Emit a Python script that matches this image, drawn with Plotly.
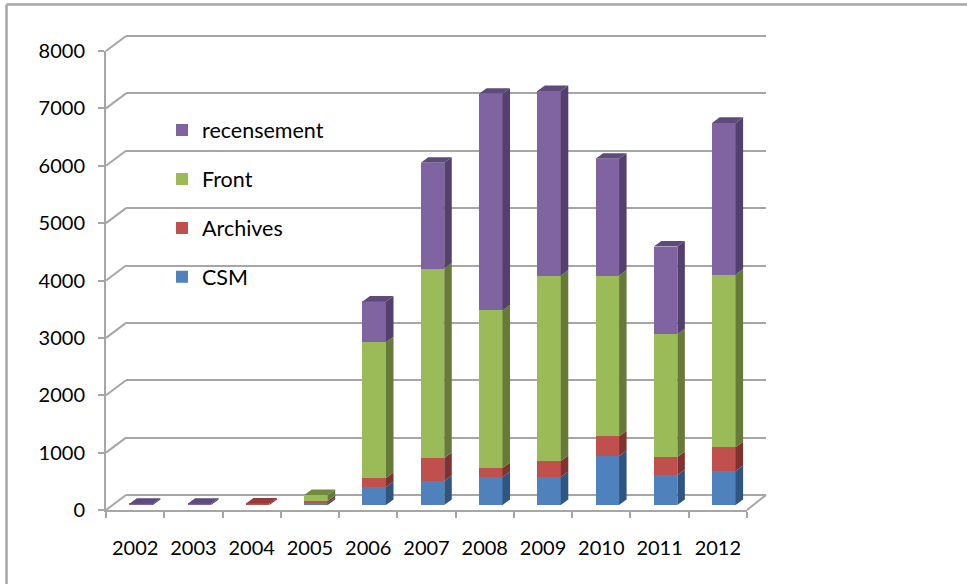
import plotly.graph_objects as go

W, H = 967, 584

# Data
years = [2002, 2003, 2004, 2005, 2006, 2007, 2008, 2009, 2010, 2011, 2012]
csm = [0, 0, 0, 35, 313, 417, 487, 487, 852, 522, 591]
archives = [0, 0, 25, 35, 157, 400, 157, 278, 348, 313, 417]
front = [0, 0, 0, 105, 2365, 3304, 2748, 3235, 2800, 2139, 3009]
recensement = [20, 20, 0, 0, 713, 1843, 3774, 3217, 2035, 1530, 2643]
y_ticks = [0, 1000, 2000, 3000, 4000, 5000, 6000, 7000, 8000]

# Styles
series = [
    ("CSM", csm, "#4F81BD", "#2F5580", "#3A6491", 4),
    ("Archives", archives, "#C0504D", "#7F3230", "#933B39", 3),
    ("Front", front, "#9BBB59", "#667A3A", "#708A3E", 2),
    ("recensement", recensement, "#8064A2", "#54406D", "#5E4A7C", 1),
]
GRID = "#A6A6A6"
FONT = "Lato"
FS = 20
LEGEND_FS = 21.5
BAR_W = 0.403
DX = 0.129   # bar depth, in years
DY = 96      # bar depth rise, in value units
PAD = 4      # extra pixels around the back wall so its end gridlines are kept
UNITS_PER_PX = 8000 / 459


def px(x):
    return x / W


def py(y):
    return 1 - y / H


def scale_y(top0, top8, v):
    return top0 + (top8 - top0) * v / 8000


fig = go.Figure()

# Back wall: gridlines only
fig.add_trace(go.Scatter(x=[None], y=[None], xaxis="x", yaxis="y", showlegend=False, hoverinfo="skip"))
# Front axes: tick labels
fig.add_trace(go.Scatter(x=[None], y=[None], xaxis="x2", yaxis="y2", showlegend=False, hoverinfo="skip"))

# Bars and their 3D faces
cum = [0] * len(years)
tops = {}
for name, vals, col, side, top, rank in series:
    fig.add_trace(go.Bar(x=years, y=vals, name=name, marker=dict(color=col, line=dict(width=0)),
                         width=BAR_W, xaxis="x3", yaxis="y3", legendgroup=name, legendrank=rank))
    sx, sy = [], []
    for i, yr in enumerate(years):
        b, t = cum[i], cum[i] + vals[i]
        if vals[i] > 0:
            r = yr + BAR_W / 2
            sx += [r, r + DX, r + DX, r, r, None]
            sy += [b, b + DY, t + DY, t, b, None]
            tops[yr] = (t, side, top)
        cum[i] = t
    fig.add_trace(go.Scatter(x=sx, y=sy, mode="lines", fill="toself", fillcolor=side,
                             line=dict(width=0), xaxis="x3", yaxis="y3",
                             showlegend=False, hoverinfo="skip"))

for name, vals, col, side, top, rank in series:
    tx, ty = [], []
    for yr in years:
        if yr in tops and tops[yr][2] == top:
            t = tops[yr][0]
            l, r = yr - BAR_W / 2, yr + BAR_W / 2
            tx += [l, l + DX, r + DX, r, l, None]
            ty += [t, t + DY, t + DY, t, t, None]
    if tx:
        fig.add_trace(go.Scatter(x=tx, y=ty, mode="lines", fill="toself", fillcolor=top,
                                 line=dict(width=0), xaxis="x3", yaxis="y3",
                                 showlegend=False, hoverinfo="skip"))

# Wall and floor lines, frame
line = dict(color=GRID, width=2)
shapes = []
for v in y_ticks:
    shapes.append(dict(type="line", xref="paper", yref="paper", layer="below", line=line,
                       x0=px(106), x1=px(126),
                       y0=py(scale_y(510, 51, v)), y1=py(scale_y(495, 36, v))))
shapes.append(dict(type="line", xref="paper", yref="paper", layer="below", line=line,
                   x0=px(747), x1=px(766), y0=py(510), y1=py(495)))
shapes.append(dict(type="line", xref="paper", yref="paper", layer="below",
                   line=dict(color=GRID, width=2.5), x0=px(6.5), x1=px(6.5), y0=py(4.5), y1=0))
shapes.append(dict(type="line", xref="paper", yref="paper", layer="below",
                   line=dict(color=GRID, width=2.5), x0=px(6.5), x1=1, y0=py(4.5), y1=py(4.5)))

x_range = [years[0] - 0.5, years[-1] + 0.5]
boundaries = [y - 0.5 for y in years] + [years[-1] + 0.5]

fig.update_layout(
    width=W, height=H, margin=dict(l=0, r=0, t=0, b=0, pad=0, autoexpand=False),
    paper_bgcolor="white", plot_bgcolor="rgba(0,0,0,0)",
    font=dict(family=FONT, size=FS, color="#000000"),
    barmode="stack", shapes=shapes, hovermode=False,
    showlegend=True,
    legend=dict(x=px(162), y=py(109.5), xanchor="left", yanchor="top",
                traceorder="grouped", tracegroupgap=18,
                bgcolor="rgba(0,0,0,0)", font=dict(family=FONT, size=LEGEND_FS, color="#000000")),
    # back wall
    xaxis=dict(domain=[px(126), px(766)], range=[0, 1], showticklabels=False, ticks="",
               showgrid=False, zeroline=False, showline=False),
    yaxis=dict(domain=[py(495 + PAD), py(36 - PAD)],
               range=[-PAD * UNITS_PER_PX, 8000 + PAD * UNITS_PER_PX], anchor="x", tickvals=y_ticks,
               showticklabels=False, ticks="", showgrid=True, gridcolor=GRID, gridwidth=2,
               zeroline=False, showline=False),
    # front axes
    xaxis2=dict(domain=[px(106), px(747)], range=x_range, anchor="y2", tickvals=years,
                ticks="", showgrid=False, zeroline=False, showline=True, linecolor=GRID, linewidth=2,
                ticklabelstandoff=19, tickfont=dict(family=FONT, size=FS, color="#000000"),
                minor=dict(tickmode="array", tickvals=boundaries, ticks="outside", ticklen=6,
                           tickwidth=1.5, tickcolor=GRID, showgrid=False)),
    yaxis2=dict(domain=[py(510), py(51)], range=[0, 8000], anchor="x2", tickvals=y_ticks,
                ticks="outside", ticklen=6, tickwidth=2, tickcolor=GRID, showgrid=False, zeroline=False,
                showline=True, linecolor=GRID, linewidth=2, ticklabelstandoff=9,
                tickfont=dict(family=FONT, size=FS, color="#000000")),
    # bars
    xaxis3=dict(domain=[px(112), px(753)], range=x_range, anchor="y3", visible=False),
    yaxis3=dict(domain=[py(505), py(46)], range=[0, 8000], anchor="x3", visible=False),
)

fig.write_html("out.html", post_script="document.body.style.margin='0';", config={"displayModeBar": False})
